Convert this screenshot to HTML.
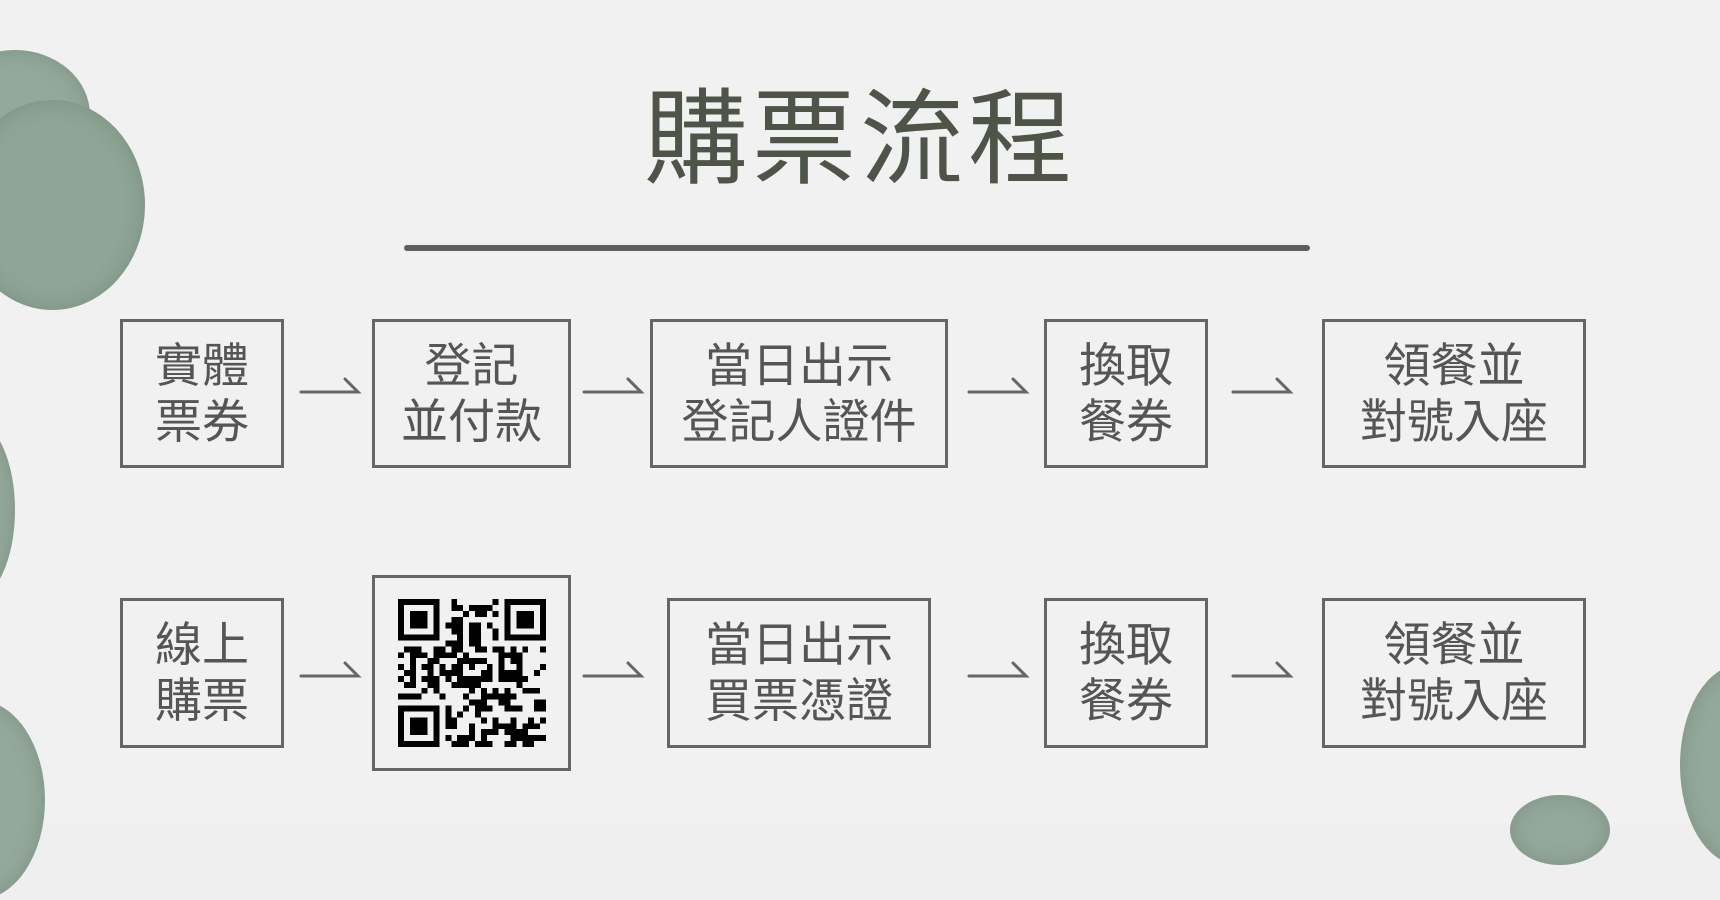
<!DOCTYPE html>
<html style="background:#efefef"><head><meta charset="utf-8"><style>
body{margin:0;width:1720px;height:824px;overflow:hidden;background:#f1f1f1;position:relative;font-family:"Liberation Sans","Noto Sans CJK TC",sans-serif;}
.b{position:absolute;box-sizing:border-box;border:3px solid #666;display:flex;align-items:center;justify-content:center;text-align:center;color:#555;font-size:47px;line-height:56px;}
.title{position:absolute;left:0;width:1720px;top:80px;text-align:center;font-size:104px;color:#4e5448;letter-spacing:4px;line-height:120px;}
.line{position:absolute;left:404px;top:245px;width:906px;height:6px;background:#5f5f5f;border-radius:3px;}
.leaf{position:absolute;border-radius:50%;background:#94a99b;box-shadow:inset 0 0 20px rgba(60,80,60,.25);}
</style></head><body>
<div class="leaf" style="left:-60px;top:50px;width:150px;height:130px;"></div>
<div class="leaf" style="left:-40px;top:100px;width:185px;height:210px;background:#8fa596;"></div>
<div class="leaf" style="left:-70px;top:420px;width:85px;height:180px;"></div>
<div class="leaf" style="left:-90px;top:700px;width:135px;height:200px;"></div>
<div class="leaf" style="left:1680px;top:665px;width:120px;height:200px;"></div>
<div class="leaf" style="left:1510px;top:795px;width:100px;height:70px;"></div>
<div class="title">購票流程</div>
<div class="line"></div>

<div class="b" style="left:120px;top:319px;width:164px;height:149px;">實體<br>票券</div>
<div class="b" style="left:372px;top:319px;width:199px;height:149px;">登記<br>並付款</div>
<div class="b" style="left:650px;top:319px;width:298px;height:149px;">當日出示<br>登記人證件</div>
<div class="b" style="left:1044px;top:319px;width:164px;height:149px;">換取<br>餐券</div>
<div class="b" style="left:1322px;top:319px;width:264px;height:149px;">領餐並<br>對號入座</div>

<div class="b" style="left:120px;top:598px;width:164px;height:150px;">線上<br>購票</div>
<div class="b" style="left:372px;top:575px;width:199px;height:196px;"><svg id="qr" width="148" height="148" viewBox="0 0 25 25" shape-rendering="crispEdges"></svg></div>
<div class="b" style="left:667px;top:598px;width:264px;height:150px;">當日出示<br>買票憑證</div>
<div class="b" style="left:1044px;top:598px;width:164px;height:150px;">換取<br>餐券</div>
<div class="b" style="left:1322px;top:598px;width:264px;height:150px;">領餐並<br>對號入座</div>

<svg style="position:absolute;left:0;top:0" width="1720" height="824">
<g stroke="#666" stroke-width="3" fill="none" stroke-linecap="round">
<path d="M301 392H358L345 379M584 392H641L628 379M969 392H1026L1013 379M1233 392H1290L1277 379"/>
<path d="M301 676H358L345 663M584 676H641L628 663M969 676H1026L1013 663M1233 676H1290L1277 663"/>
</g></svg>
<script>
var s=document.getElementById('qr'),h='',seed=7;
function r(){seed=(seed*1103515245+12345)%2147483648;return seed/2147483648;}
function inF(x,y){return (x<8&&y<8)||(x>16&&y<8)||(x<8&&y>16);}
for(var y=0;y<25;y++)for(var x=0;x<25;x++){if(inF(x,y))continue;if(r()<0.5)h+='<rect x="'+x+'" y="'+y+'" width="1" height="1"/>';}
[[0,0],[18,0],[0,18]].forEach(function(p){var x=p[0],y=p[1];h+='<rect x="'+(x+.5)+'" y="'+(y+.5)+'" width="6" height="6" fill="none" stroke="#000" stroke-width="1"/><rect x="'+(x+2)+'" y="'+(y+2)+'" width="3" height="3"/>';});
s.innerHTML=h;
</script>
</body></html>
